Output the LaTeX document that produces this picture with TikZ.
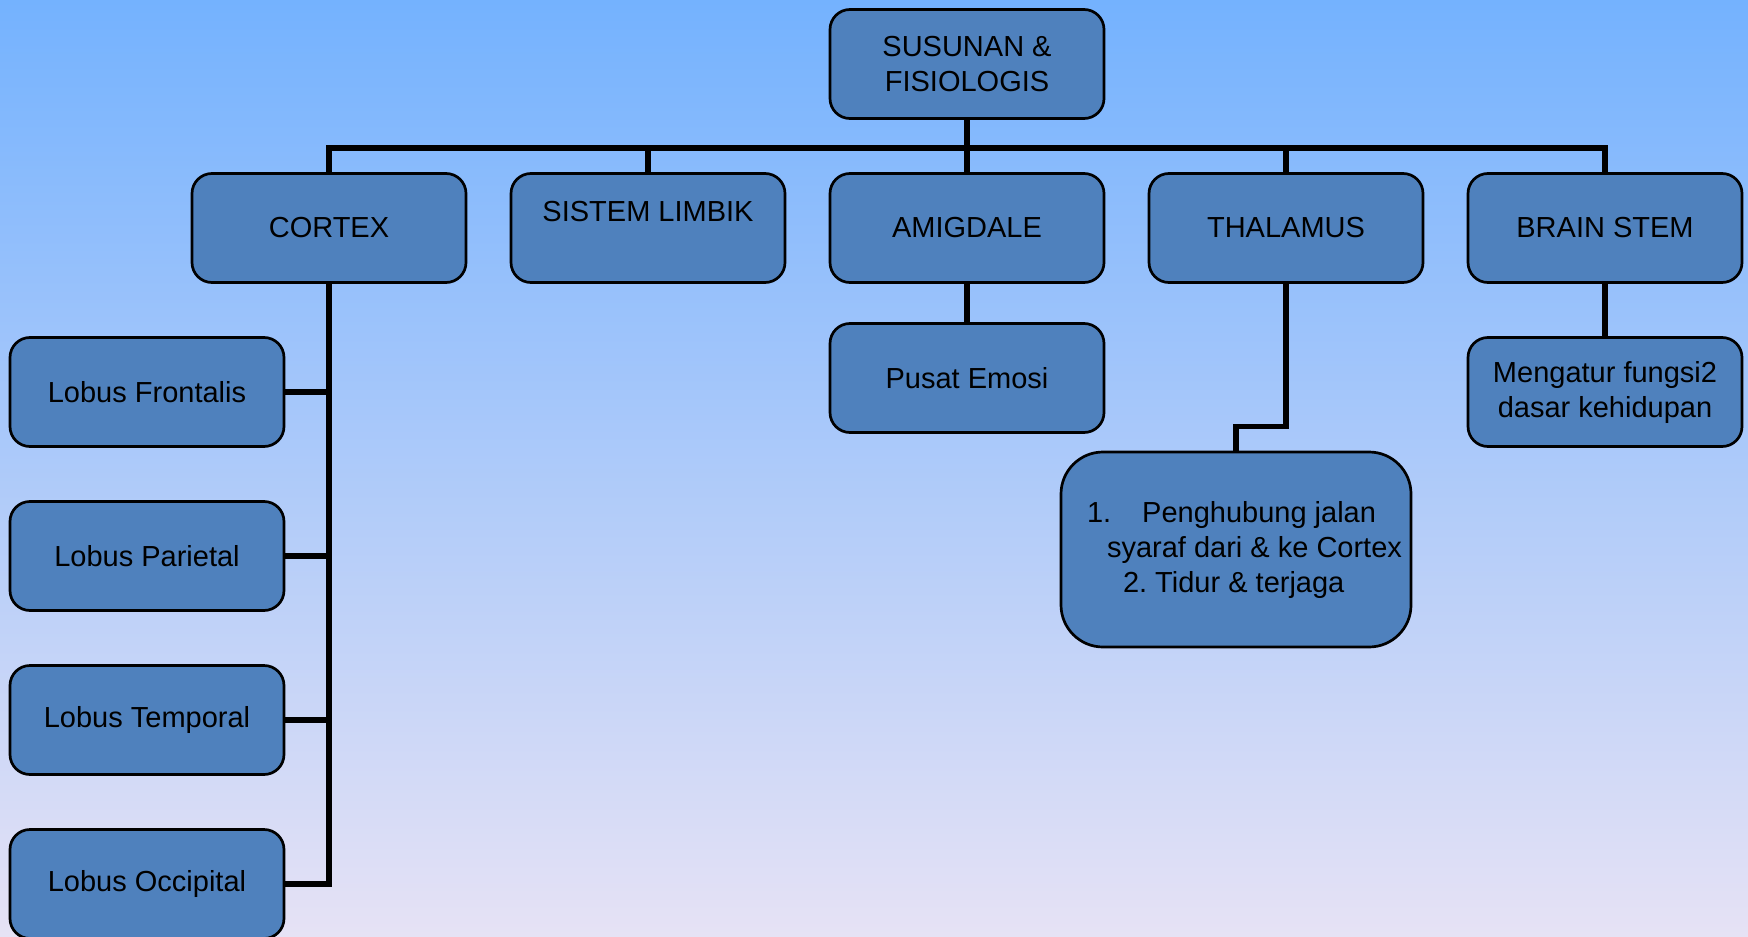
\documentclass[tikz,border=0pt]{standalone}
\usepackage{fontspec}
\setmainfont{Liberation Sans}
\usetikzlibrary{positioning, calc}

\definecolor{boxblue}{RGB}{79,129,189}
\definecolor{bgtop}{RGB}{116,178,254}
\definecolor{bgbottom}{RGB}{230,226,245}

\begin{document}
\begin{tikzpicture}[x=0.5pt, y=-0.5pt, node distance=26.15pt and 21.15pt,
	every node/.style={font=\fontsize{14.5}{17.5}\selectfont},
	box/.style={rectangle, rounded corners=10pt, draw, line width=1.35pt, fill=boxblue, minimum width=137pt, minimum height=54.5pt, align=center, inner sep=2pt},
	conn/.style={line width=2.75pt}
	]

% background
\fill[top color=bgtop, bottom color=bgbottom] (0,0) rectangle (1748,936);
\useasboundingbox (0,0) rectangle (1748,936);

\node[box] (top) at (967,64) {SUSUNAN \&\\FISIOLOGIS};

\node[box] (cortex) at (329,228) {CORTEX};
\node[box, right=of cortex, minimum height=0pt, inner ysep=0pt, text height=24pt, text depth=30.5pt] (limbik) {SISTEM LIMBIK};
\node[box, right=of limbik] (amigdale) {AMIGDALE};
\node[box, right=of amigdale] (thalamus) {THALAMUS};
\node[box, right=of thalamus] (brainstem) {BRAIN STEM};

\node[box] (frontalis) at (147,392) {Lobus Frontalis};
\node[box, below=of frontalis] (parietal) {Lobus Parietal};
\node[box, below=of parietal] (temporal) {Lobus Temporal};
\node[box, below=of temporal] (occipital) {Lobus Occipital};

\node[box, below=19.15pt of amigdale] (emosi) {Pusat Emosi};
\node[box, minimum width=175pt, minimum height=97.5pt, rounded corners=21pt, align=left] (fungsi) at (1236,549.5)
	{1.\hspace{15.5pt}Penghubung jalan\\\hspace*{10pt}\makebox[139pt][l]{syaraf dari \& ke Cortex}\\\hspace*{18pt}2.\ Tidur \& terjaga};
\node[box, below=of brainstem] (mengatur) {Mengatur fungsi2\\dasar kehidupan};

% connectors
\coordinate (bus) at (0,148);
\foreach \n in {cortex,limbik,amigdale,thalamus,brainstem}
	\draw[conn] (top.south) |- (bus -| \n.north) -- (\n.north);

\draw[conn] (cortex.south) |- (occipital.east);
\foreach \n in {frontalis,parietal,temporal}
	\draw[conn] (\n.east) -- (\n.east -| cortex.south);

\draw[conn] (amigdale) -- (emosi);
\draw[conn] (thalamus.south) |- ($(fungsi.north)+(0,-24)$) -- (fungsi.north);
\draw[conn] (brainstem) -- (mengatur);

\end{tikzpicture}
\end{document}
